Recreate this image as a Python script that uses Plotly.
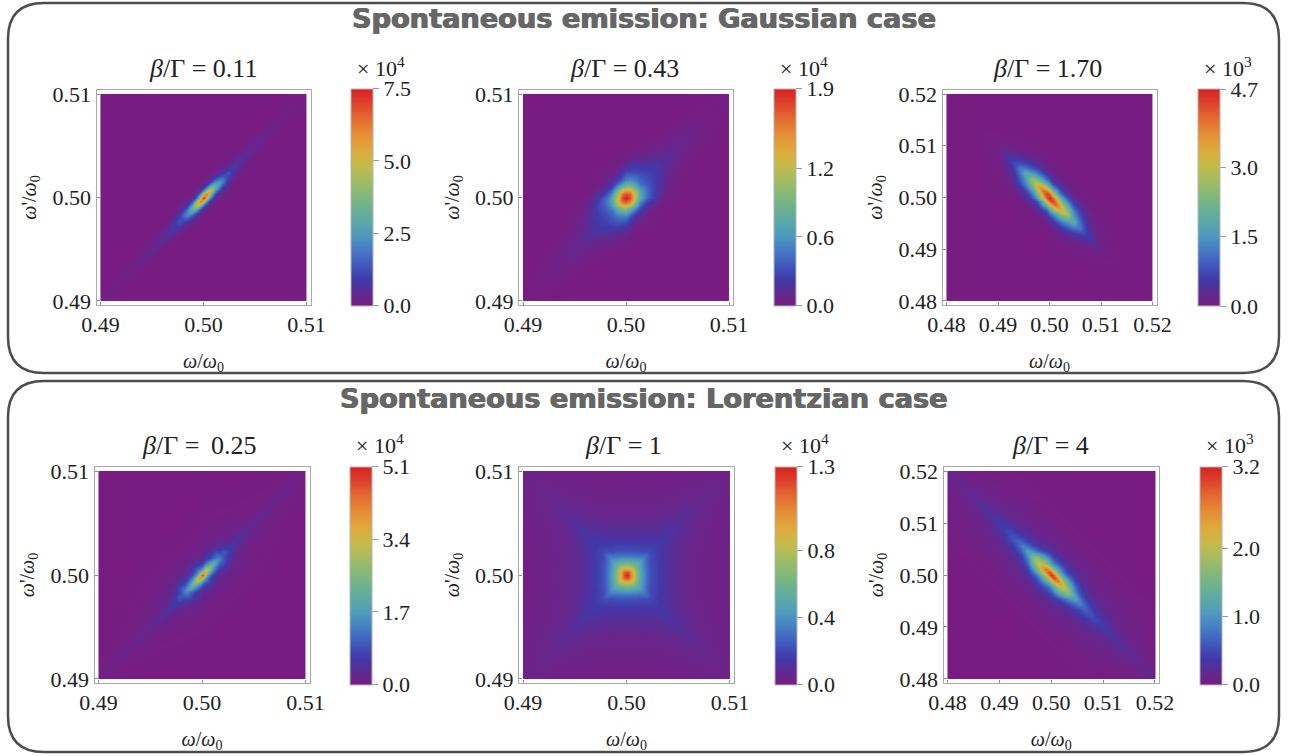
import plotly.graph_objects as go

# ---- node offsets from 0.50, in units of 1e-3 -------------------------------
T1 = [0,.3,.6,.9,1.2,1.5,1.8,2.4,3,3.6,4.2,4.8,5.4,6,6.5,7,7.5,8,8.5,9,9.25,9.5,9.75,10]
T2 = [0,.35,.7,1.05,1.4,1.8,2.25,2.7,3.1,3.6,4.1,4.6,5,5.4,5.9,6.6,7.4,8.2,9,10]
T3 = [0,.6,1.2,1.8,2.4,3,3.6,4.7,5.8,6.8,7.8,8.8,9.6,10.4,12,14,16,20]
T4 = [0,.28,.56,.84,1.12,1.4,1.68,2.2,2.8,3.4,4,4.5,5,5.5,6,6.5,7,7.5,8,8.5,9,9.33,9.66,10]
T5 = [0,.28,.56,.84,1.12,1.4,1.7,2,2.3,2.8,3.3,3.8,4.3,5.2,6.2,7.2,8.2,9,10]
T6 = [0,.6,1.2,1.8,2.4,3,3.6,4.6,5.6,6.6,7.6,8.6,9.6,10.6,11.6,12.6,13.6,14.6,15.6,16.6,17.6,18.4,19.2,20]

# ---- read values, % of each panel's peak; row i lists nodes i, i+1, ... -------
G011_SAME = [
 [100,68,32,13,5,2.5,1.2,.3],[88,62,30,13,6,3,.8],[72,52,26,12,5.5,1.2],[55,41,22,10,2],
 [42,32,18,3.5,.8],[33,25,7,1.5],[26,11,2.5,.5],[18,7,1.7,.4],[13,5,1.2,.3],[10,3.8,.9,.2],
 [8,3.1,.7,.1],[6.5,2.5,.6],[5.4,2.1,.5],[4.5,1.8,.4],[3.8,1.6,.4],[3.3,1.4,.3],[2.9,1.2,.3],
 [2.5,1,.2],[2.1,.9,.2],[1.8,1.3,.5,.2],[1.6,1.2,.5,.2],[1.5,1.1,.5],[1.4,1.1],[1.3]]
G011_OPP = [G011_SAME[0],
 [32,14,5,2,1,.5],[5,2,1,.4],[.8,.3],[.1]]

G043_SAME = [
 [100,92,74,54,38,26,18,12,8,3.5,1.5,.8,.4,.2,.1],
 [88,72,54,38,27,19,13,9,4,1.8,.9,.4,.2],
 [60,48,35,26,19,14,10,5,2.3,1.1,.5,.2],
 [36,29,23,18,14,11,6,3,1.5,.7,.3,.1],
 [22,20,16.5,13.5,11,6.5,3.6,1.9,.9,.4,.2],
 [17,15.5,13,11,7,4,2.2,1.2,.6,.3,.1],
 [14,12.5,10.8,7.5,4.7,2.7,1.5,.8,.4,.1],
 [12,10.5,7.7,5,3.1,1.8,1,.5,.1],
 [10.5,7.8,5.4,3.5,2.2,1.2,.7,.2],
 [8,6.3,4.5,3,1.9,1.1,.3],[6.5,5.2,3.9,2.7,1.8,.6,.2],[5.3,4.3,3.3,2.4,1,.3,.1],
 [4.4,3.6,2.8,1.3,.5,.2],[3.7,3,1.6,.8,.3,.1],[3.1,2,1,.4,.2,.1],[2.3,1.4,.7,.3,.1],
 [1.7,1,.5,.2],[1.2,.7,.3],[.9,.5],[.7]]
G043_OPP = [G043_SAME[0],
 [84,66,46,30,19,12,7.5,4.5,1.5,.5,.2],[52,36,22,13,7.5,4.2,2.4,.7,.2],
 [24,15,8.5,4.6,2.5,1.3,.4,.1],[10,5.5,2.8,1.4,.7,.2],[4,1.8,.9,.4,.1],[1.8,.8,.3,.1],
 [.8,.3],[.4,.1],[.1]]

G170_OPP = [
 [100,90,72,52,36,24,16,7,3,1.5,.8,.5,.3,.2,.1],
 [96,84,66,48,33,22,10,4.5,2,1.1,.6,.4,.2,.1],
 [90,76,59,43,30,14,6.5,3,1.5,.8,.5,.3,.1],
 [82,68,52,38,19,9,4.2,2,1.1,.6,.4,.1],
 [72,60,46,25,12.5,6,2.8,1.4,.8,.5,.2],
 [63,52,30,16,8,3.8,1.9,1,.6,.2],
 [55,33,18,9,4,2,1,.6,.2],
 [40,24,12,5.5,2.5,1.2,.8,.3,.1],[26,15,8,3.5,1.8,1,.4,.1],[16,10,5,2.3,1.2,.5,.2],
 [12,6,2.8,1.4,.6,.2],[7,3,1.5,.6,.2],[4,1.8,.7,.2,.1],[1.8,.8,.3,.1],[.8,.4,.2],
 [.4,.2],[.2,.1],[.1]]
G170_SAME = [G170_OPP[0],
 [68,48,32,20,12,7.5,2.8,1.1,.5,.2,.1],[38,25,15,9,5.5,2,.8,.3,.1],
 [16,10,6,3.5,1.3,.5,.2,.1],[6,3.5,2,.8,.3,.1],[2.2,1.3,.5,.2,.1],[.9,.4,.2,.1],[.2,.1]]

L025_SAME = [
 [100,62,34,20,13,9,6.5,3.5,2.2,1.5,1.1,.9,.7,.6,.5,.4,.3,.3,.2,.2,.2,.1,.1,.1],
 [82,56,33,20,13,9,6.5,3.7,2.3,1.6,1.2,.9,.7,.6,.5,.4,.3,.3,.2,.2,.2,.1,.1,.1],
 [64,45,28,18,12,8.5,3.9,2.4,1.7,1.2,1,.8,.6,.5,.4,.3,.3,.2,.2,.2,.1,.1],
 [50,37,24,15.5,10.5,4.2,2.6,1.8,1.3,1,.8,.6,.5,.4,.3],
 [40,31,21,14,4.8,2.8,1.9,1.4,1.1,.8,.7,.5,.4,.3],
 [33,26,16,6.5,3.2,2.1,1.5,1.1,.9,.7,.6,.4,.3],
 [27,14,7.5,3.7,2.3,1.6,1.2,.9,.7,.6,.4,.3],
 [19,9,4.2,2.5,1.7,1.3,1,.8,.6,.5,.4,.3],
 [13,6,3,2,1.4,1.1,.9,.7,.5,.4,.3],
 [10,5,2.7,1.7,1.3,1,.8,.6,.5,.4,.3],
 [8.5,4.4,2.4,1.5,1.1,.9,.7,.6,.5,.4,.3],
 [7.2,3.8,2.1,1.4,1.1,.8,.6,.5,.4,.3],[6.2,3.3,1.9,1.2,.9,.7,.6,.4,.3],
 [5.4,2.9,1.7,1.1,.8,.6,.5,.4,.3],[4.7,2.6,1.5,1,.7,.5,.4,.3],[4.2,2.3,1.3,.9,.6,.5,.4,.3],
 [3.7,2.1,1.2,.8,.6,.4,.3],[3.3,1.9,1.1,.7,.5,.4,.3],[2.9,1.7,1,.6,.4,.3],[2.6,1.5,.9,.6,.4],
 [2.3,1.7,1.2,.8],[2.1,1.6,1.1],[2,1.5],[1.9]]
L025_OPP = [L025_SAME[0],
 [40,24,15,10,7,5,2.8,1.8,1.2,.9,.7,.6,.5,.4,.3],
 [20,13,9,6.5,4.8,2.7,1.7,1.2,.9,.7,.6,.5,.4,.3],
 [9,7,5,4,2.3,1.5,1.1,.8,.6,.5,.4,.3],
 [5,3.8,3,1.9,1.3,1,.7,.6,.5,.4,.3],
 [2.8,2.3,1.6,1.1,.8,.6,.5,.4,.3],
 [1.8,1.3,1,.7,.6,.4,.3],[1,.7,.6,.4,.3],[.6,.4,.3],[.3]]

L100_SAME = [
 [100,92,75,58,46,36,28,22,17,14,11,9,7.5,5,3.5,2.7,2.2,1.8,1.5],
 [88,74,58,46,36,28,22,17,14,11,9,7.5,5,3.5,2.7,2.2,1.8,1.5],
 [66,54,44,35,27,22,17,14,11,9,7.5,5,3.5,2.7,2.2,1.8,1.5],
 [50,42,34,27,21.5,17,14,11,9,7.5,5,3.6,2.7,2.2,1.8,1.5],
 [40,33,26,21,16.5,14,11,9,7.5,5,3.6,2.75,2.2,1.8,1.5],
 [32,26,20.5,16,13.5,11,9.1,7.6,5,3.6,2.75,2.2,1.8,1.5],
 [26,20.5,16,13.5,11.2,9.2,7.7,5.1,3.6,2.75,2.2,1.8,1.55],
 [20.5,16,13.4,11.3,9.3,7.7,5.1,3.6,2.75,2.2,1.8,1.55],
 [15.5,13.2,11.4,9.4,7.8,5.2,3.6,2.75,2.2,1.8,1.55],
 [13,11.5,9.7,8.1,5.4,3.7,2.8,2.25,1.85,1.55],
 [12,10.2,8.6,5.8,3.9,2.9,2.3,1.9,1.55],
 [11,9.2,6.2,4.1,3,2.4,1.95,1.6],
 [10,6.8,4.4,3.2,2.5,2,1.65],
 [8.5,5.2,3.6,2.7,2.2,1.75],[6.5,4.2,3,2.4,1.9],[5,3.4,2.6,2.1],[4,2.9,2.3],[3.2,2.4],[2.6]]
L100_OPP = L100_SAME

L400_OPP = [
 [100,84,62,44,31,22,16,9.5,6,4.2,3,2.2,1.7,1.3,1.1,.9,.7,.6,.5,.4,.3,.3,.2,.2],
 [95,78,60,44,32,23,11,7,4.7,3.3,2.4,1.8,1.4,1.1,.9,.7,.6,.5,.4,.3,.3,.2,.2],
 [87,70,54,41,30,13.5,8,5.3,3.7,2.7,2,1.6,1.2,1,.8,.7,.5,.4,.4,.3,.3,.2],
 [76,62,49,38,17,9.5,6,4.2,3,2.2,1.7,1.3,1,.9,.7,.6,.5,.4,.3,.3,.2],
 [66,55,44,21,11.5,7,4.8,3.4,2.5,1.9,1.5,1.2,.9,.8,.6,.5,.4,.3,.3,.2],
 [58,49,25,13.5,8.2,5.5,3.8,2.8,2.1,1.6,1.3,1,.8,.7,.5,.4,.4,.3,.3],
 [50,30,16,9.6,6.3,4.4,3.2,2.4,1.8,1.4,1.1,.9,.7,.6,.5,.4,.3,.3],
 [37,22.5,13.5,8.8,6,4.4,3.3,2.5,2,1.6,1.3,1,.8,.7,.6,.5,.4],
 [28,18,11.5,7.5,5.4,4,3,2.3,1.8,1.5,1.2,1,.8,.7,.6,.5],
 [22,15,10,7,5,3.7,2.8,2.2,1.7,1.4,1.1,.9,.8,.6,.5],
 [18,13,8.8,6,4.4,3.3,2.5,2,1.6,1.3,1,.9,.7,.6],
 [15,11,7.5,5.2,3.8,2.9,2.2,1.8,1.5,1.2,1,.8,.7],
 [13,9.6,6.6,4.6,3.4,2.6,2,1.6,1.3,1.1,.9,.8],
 [11,8.3,5.7,4,3,2.3,1.8,1.5,1.2,1,.9],
 [9.5,7.2,5,3.5,2.6,2,1.6,1.3,1.1,1],
 [8.5,6.4,4.3,3,2.3,1.8,1.4,1.2,1],
 [7.5,5.6,3.8,2.7,2,1.6,1.3,1.1],[6.5,4.9,3.3,2.3,1.8,1.5,1.2],[5.8,4.3,2.9,2,1.6,1.3],
 [5.2,3.8,2.6,1.8,1.4],[4.6,3.6,2.7,1.8],[4.2,3.4,2.5],[3.9,3.3],[3.6]]
L400_SAME = [L400_OPP[0],
 [62,47,33,23,16,12,7,4.5,3.1,2.3,1.7,1.3,1,.8,.7,.6,.5,.4,.3,.3,.2,.2,.2],
 [36,26,18,13,9.5,5.6,3.7,2.6,2,1.5,1.2,.9,.8,.6,.5,.4,.4,.3,.3,.2,.2],
 [19,14,10,7.5,4.5,3,2.2,1.7,1.3,1,.8,.7,.6,.5,.4,.3,.3,.2,.2],
 [10,7.5,5.7,3.6,2.5,1.9,1.4,1.1,.9,.7,.6,.5,.4,.3,.3,.2,.2],
 [6,4.5,3,2.1,1.6,1.2,1,.8,.7,.5,.5,.4,.3,.3,.2,.2],
 [3.6,2.4,1.8,1.4,1.1,.9,.7,.6,.5,.4,.3,.3,.2,.2],
 [1.6,1.3,1,.8,.7,.6,.5,.4,.3,.3,.2,.2],
 [1,.8,.7,.6,.5,.4,.3,.3,.2,.2],[.7,.5,.5,.4,.3,.3,.2,.2]]

PEAKS = [7.5, 1.9, 4.7, 5.1, 1.3, 3.2]
EXPONENTS = ["4", "4", "3", "4", "4", "3"]
PANEL_TITLES = ["<i>β</i>/Γ = 0.11", "<i>β</i>/Γ = 0.43", "<i>β</i>/Γ = 1.70",
                "<i>β</i>/Γ =\u2009 0.25", "<i>β</i>/Γ = 1", "<i>β</i>/Γ = 4"]
TITLE_X = [203, 624, 1047, 199, 623, 1050]
CB_TICKS = [[0, 2.5, 5.0, 7.5], [0, .6, 1.2, 1.9], [0, 1.5, 3.0, 4.7],
            [0, 1.7, 3.4, 5.1], [0, .4, .8, 1.3], [0, 1.0, 2.0, 3.2]]
NARROW_TICKS = [0.49, 0.50, 0.51]
WIDE_TICKS = [0.48, 0.49, 0.50, 0.51, 0.52]
HEADINGS = ["Spontaneous emission: Gaussian case", "Spontaneous emission: Lorentzian case"]

RAINBOW = [[0, "#781C81"], [.06, "#5E2A92"], [.12, "#4238A8"], [.18, "#3F55BC"], [.25, "#4478C4"],
           [.33, "#4F9BBE"], [.42, "#62AE9C"], [.5, "#7DB87C"], [.58, "#A3BC60"], [.65, "#C6BB48"],
           [.72, "#DFA93C"], [.8, "#E58B35"], [.88, "#E3622F"], [.95, "#DC3A2A"], [1, "#D92120"]]

W, H = 1289, 756
SERIF = "Liberation Serif"

def lookup(table, i, k):
    lo, hi = min(i, k), max(i, k)
    if lo < len(table) and hi - lo < len(table[lo]):
        return table[lo][hi - lo]
    return 0.0

def assemble(t, same, opp, peak):
    idx = [-i for i in range(len(t) - 1, 0, -1)] + list(range(len(t)))
    z = [[lookup(same if iy * ix >= 0 else opp, abs(ix), abs(iy)) * peak / 100 for ix in idx] for iy in idx]
    z = [z[0]] + z + [z[-1]]
    z = [[r[0]] + r + [r[-1]] for r in z]
    e = t[-1]
    nodes = [-e] + [-e * .999] + [(1 if i > 0 else -1) * t[abs(i)] for i in idx[1:-1]] + [e * .999, e]
    return [0.5 + v * 1e-3 for v in nodes], z

PANELS = [(T1, G011_SAME, G011_OPP), (T2, G043_SAME, G043_OPP), (T3, G170_SAME, G170_OPP),
          (T4, L025_SAME, L025_OPP), (T5, L100_SAME, L100_OPP), (T6, L400_SAME, L400_OPP)]
FRAMES = [(96.5, 310.5, 90, 305), (519, 733, 90, 305), (942.5, 1156.5, 90, 305),
          (94.5, 309.5, 467, 683), (519, 734, 467, 683), (943.5, 1159, 467, 683)]
BARS = [(351, 89, 305.5), (773.5, 89, 305.5), (1197.5, 89.5, 306),
        (350, 467, 684.5), (774.5, 467, 684.5), (1199.5, 467, 684.5)]
PAD = 4 / 206

fig = go.Figure()
layout = {}
ann = []
for n, ((t, same, opp), peak, fr, bar) in enumerate(zip(PANELS, PEAKS, FRAMES, BARS)):
    x, z = assemble(t, same, opp, peak)
    sfx = "" if n == 0 else str(n + 1)
    fig.add_trace(go.Heatmap(
        x=x, y=x, z=z, xaxis="x" + sfx, yaxis="y" + sfx, zmin=0, zmax=peak, zsmooth="best",
        colorscale=RAINBOW,
        colorbar=dict(x=bar[0] / W, xanchor="left", y=1 - bar[2] / H, yanchor="bottom",
                      lenmode="pixels", len=bar[2] - bar[1], thicknessmode="pixels", thickness=21.5,
                      xpad=0, ypad=0, outlinecolor="#b5b5b5", outlinewidth=1,
                      ticks="outside", ticklen=6, tickcolor="#999999", tickwidth=1,
                      tickvals=CB_TICKS[n], ticktext=[f"{v:.1f}" for v in CB_TICKS[n]],
                      tickfont=dict(family=SERIF, size=22, color="#222222"))))
    half = t[-1] * 1e-3
    rng = [0.5 - half * (1 + 2 * PAD), 0.5 + half * (1 + 2 * PAD)]
    ticks = WIDE_TICKS if t[-1] > 10 else NARROW_TICKS
    common = dict(range=rng, tickmode="array", tickvals=ticks, ticktext=[f"{v:.2f}" for v in ticks],
                  ticks="inside", ticklen=3, tickcolor="#8a8a8a", tickwidth=1,
                  showline=True, mirror=True, linecolor="#a8a8a8", linewidth=1,
                  showgrid=False, zeroline=False,
                  tickfont=dict(family=SERIF, size=22, color="#222222"))
    layout["xaxis" + sfx] = dict(common, domain=[fr[0] / W, fr[1] / W], anchor="y" + sfx,
        title=dict(text="<i>ω</i>/<i>ω</i><sub>0</sub>", font=dict(family=SERIF, size=20, color="#222222"), standoff=17))
    layout["yaxis" + sfx] = dict(common, domain=[1 - fr[3] / H, 1 - fr[2] / H], anchor="x" + sfx,
        title=dict(text="<i>ω</i>'/<i>ω</i><sub>0</sub>", font=dict(family=SERIF, size=20, color="#222222"), standoff=10))
    ann.append(dict(text=PANEL_TITLES[n], x=TITLE_X[n] / W, y=1 - (fr[2] - 22) / H, xref="paper", yref="paper",
                    showarrow=False, xanchor="center", yanchor="middle",
                    font=dict(family=SERIF, size=26, color="#222222")))
    ann.append(dict(text=f"× 10<sup>{EXPONENTS[n]}</sup>", x=(bar[0] + 30) / W, y=1 - (fr[2] - 23) / H, xref="paper", yref="paper",
                    showarrow=False, xanchor="center", yanchor="middle",
                    font=dict(family=SERIF, size=22, color="#222222")))

for text, yc in zip(HEADINGS, (19, 398)):
    ann.append(dict(text=f"<b>{text}</b>", x=644 / W, y=1 - yc / H, xref="paper", yref="paper", showarrow=False,
                    xanchor="center", yanchor="middle",
                    font=dict(family="DejaVu Sans", size=27.2, color="#666666", shadow="0.6px 0 0 #666666, -0.6px 0 0 #666666")))

def rounded(x0, y0, x1, y1, r):
    X = lambda v: f"{v / W:.5f}"
    Y = lambda v: f"{1 - v / H:.5f}"
    return (f"M{X(x0 + r)},{Y(y0)} L{X(x1 - r)},{Y(y0)} Q{X(x1)},{Y(y0)} {X(x1)},{Y(y0 + r)} "
            f"L{X(x1)},{Y(y1 - r)} Q{X(x1)},{Y(y1)} {X(x1 - r)},{Y(y1)} "
            f"L{X(x0 + r)},{Y(y1)} Q{X(x0)},{Y(y1)} {X(x0)},{Y(y1 - r)} "
            f"L{X(x0)},{Y(y0 + r)} Q{X(x0)},{Y(y0)} {X(x0 + r)},{Y(y0)} Z")

shapes = [dict(type="path", path=rounded(*b, 36), xref="paper", yref="paper",
               line=dict(color="#4d4d4d", width=2.5))
          for b in ((8, 3, 1279, 373), (8, 381, 1279, 752))]

fig.update_layout(width=W, height=H, margin=dict(l=0, r=0, t=0, b=0, autoexpand=False), paper_bgcolor="white",
                  plot_bgcolor="white", annotations=ann, shapes=shapes, **layout)
fig.write_html("out.html", config={"displayModeBar": False},
               post_script="document.body.style.margin='0';document.body.style.overflow='hidden';")
